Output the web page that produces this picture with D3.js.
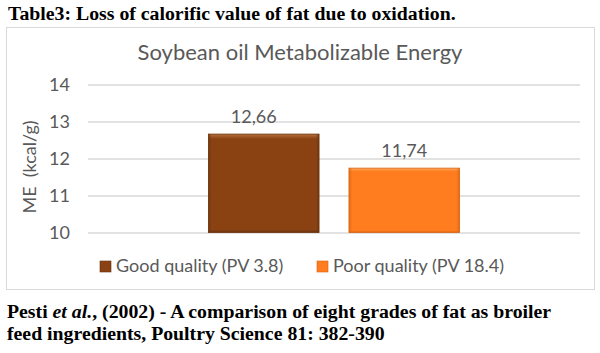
<!DOCTYPE html>
<html lang="en">
<head>
<meta charset="UTF-8">
<title>Soybean oil Metabolizable Energy</title>
<script src="https://d3js.org/d3.v7.min.js"></script>
<style>
  body { margin: 0; background: #fff; }
  svg { display: block; }
  .serif { font-family: "Liberation Serif", "Times New Roman", serif; font-weight: bold; fill: #000; }
  .sans { font-family: Lato, "Open Sans", sans-serif; fill: #595959; }
</style>
</head>
<body>
<svg id="chart" width="600" height="353"></svg>
<script>
// data
const category = ["Soybean oil"];
const series = ["Good quality (PV 3.8)", "Poor quality (PV 18.4)"];
const values = [12.66, 11.74];
const labels = ["12,66", "11,74"];
const yTicks = [10, 11, 12, 13, 14];

const svg = d3.select("#chart");

// palette: main, light edge, dark edge
const colors = [
  { main: "#8b4213", light: "#b5703d", dark: "#6a310c" },
  { main: "#ff7d1e", light: "#ffaa66", dark: "#d9630e" }
];

// heading above the chart
svg.append("text").attr("class", "serif")
  .attr("x", 8).attr("y", 20).style("font-size", "19.8px")
  .text("Table3: Loss of calorific value of fat due to oxidation.");

// chart frame
svg.append("rect")
  .attr("x", 6.5).attr("y", 27.5).attr("width", 588).attr("height", 262)
  .attr("fill", "#fff").attr("stroke", "#d9d9d9");

svg.append("text").attr("class", "sans")
  .attr("x", 300).attr("y", 60).attr("text-anchor", "middle")
  .style("font-size", "22px")
  .text("Soybean oil Metabolizable Energy");

const plot = { left: 88, right: 580, top: 84.5, bottom: 232.5 };

const y = d3.scaleLinear().domain([10, 14]).range([plot.bottom, plot.top]);
const x0 = d3.scaleBand().domain(category).range([plot.left, plot.right]).paddingInner(0).paddingOuter(0.48);
const x1 = d3.scaleBand().domain(series).range([0, x0.bandwidth()]).paddingInner(0.213);

// gridlines + tick labels
const yAxis = svg.append("g")
  .attr("transform", `translate(${plot.left},0)`)
  .call(d3.axisLeft(y).tickValues(yTicks).tickSize(-(plot.right - plot.left)).tickPadding(18).tickFormat(d3.format("d")));
yAxis.select(".domain").remove();
yAxis.selectAll(".tick line").attr("stroke", "#d9d9d9").attr("stroke-width", 1.3);
yAxis.selectAll(".tick text")
  .attr("class", "sans").attr("fill", "#595959")
  .style("font-size", "18px").style("font-family", "Lato, sans-serif");

// y axis title
svg.append("text").attr("class", "sans")
  .attr("transform", `translate(36,167) rotate(-90)`)
  .attr("text-anchor", "middle").style("font-size", "18px")
  .text("ME\u00a0 (kcal/g)");

// bevel gradients
const defs = svg.append("defs");
colors.forEach((c, i) => {
  const gv = defs.append("linearGradient").attr("id", "gv" + i)
    .attr("x1", 0).attr("y1", 0).attr("x2", 0).attr("y2", 1);
  gv.append("stop").attr("offset", "0").attr("stop-color", c.light);
  gv.append("stop").attr("offset", "0.05").attr("stop-color", c.main);
  gv.append("stop").attr("offset", "0.97").attr("stop-color", c.main);
  gv.append("stop").attr("offset", "1").attr("stop-color", c.dark);
  const gh = defs.append("linearGradient").attr("id", "gh" + i)
    .attr("x1", 0).attr("y1", 0).attr("x2", 1).attr("y2", 0);
  gh.append("stop").attr("offset", "0").attr("stop-color", c.dark).attr("stop-opacity", 0.7);
  gh.append("stop").attr("offset", "0.03").attr("stop-color", c.dark).attr("stop-opacity", 0);
  gh.append("stop").attr("offset", "0.97").attr("stop-color", c.dark).attr("stop-opacity", 0);
  gh.append("stop").attr("offset", "1").attr("stop-color", c.dark).attr("stop-opacity", 0.7);
});

const rows = series.map((s, i) => ({ series: s, value: values[i], label: labels[i], i }));

const g = svg.append("g").attr("transform", `translate(${x0(category[0])},0)`);

g.selectAll("rect.bar").data(rows).enter().append("rect")
  .attr("class", "bar")
  .attr("x", d => x1(d.series)).attr("y", d => y(d.value))
  .attr("width", x1.bandwidth()).attr("height", d => y(10) - y(d.value))
  .attr("fill", d => `url(#gv${d.i})`)
  .attr("stroke", d => colors[d.i].dark).attr("stroke-width", 0.8);

g.selectAll("rect.shade").data(rows).enter().append("rect")
  .attr("class", "shade")
  .attr("x", d => x1(d.series)).attr("y", d => y(d.value))
  .attr("width", x1.bandwidth()).attr("height", d => y(10) - y(d.value))
  .attr("fill", d => `url(#gh${d.i})`);

// value labels (the first one sits a bit left of centre in the original)
g.selectAll("text.val").data(rows).enter().append("text")
  .attr("class", "sans")
  .attr("x", d => x1(d.series) + x1.bandwidth() / 2 + (d.i === 0 ? -10 : 0))
  .attr("y", d => y(d.value) - 11)
  .attr("text-anchor", "middle").style("font-size", "18px")
  .text(d => d.label);

// legend
const legendX = [100, 317];
const lg = svg.append("g").selectAll("g").data(rows).enter().append("g")
  .attr("transform", d => `translate(${legendX[d.i]},261)`);
lg.append("rect").attr("width", 11).attr("height", 11)
  .attr("fill", d => `url(#gv${d.i})`).attr("stroke", d => colors[d.i].dark).attr("stroke-width", 0.6);
lg.append("text").attr("class", "sans")
  .attr("x", 16).attr("y", 11).style("font-size", "18px")
  .text(d => d.series);

// reference below the chart
const ref = svg.append("text").attr("class", "serif").style("font-size", "19.8px");
const l1 = ref.append("tspan").attr("x", 7).attr("y", 318);
l1.append("tspan").text("Pesti ");
l1.append("tspan").style("font-style", "italic").text("et al.");
l1.append("tspan").text(", (2002) - A comparison of eight grades of fat as broiler");
ref.append("tspan").attr("x", 7).attr("y", 340)
  .text("feed ingredients, Poultry Science 81: 382-390");
</script>
</body>
</html>
